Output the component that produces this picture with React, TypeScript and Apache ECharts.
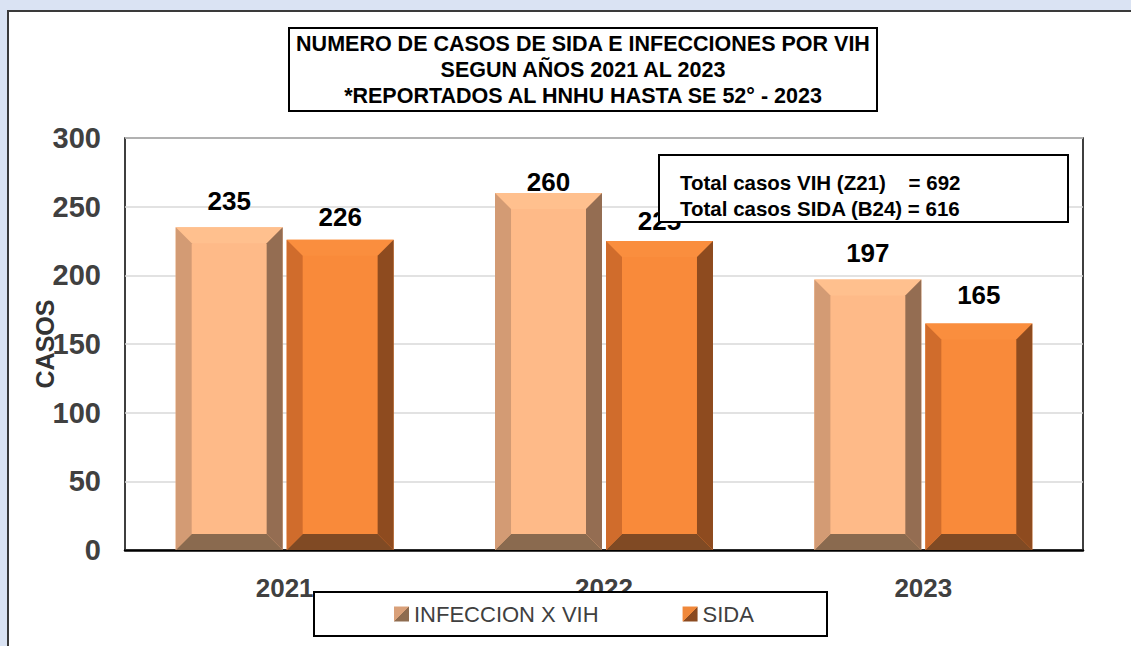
import React, { useEffect, useRef } from 'react';
import * as echarts from 'echarts';

const categories = ['2021', '2022', '2023'];
const vihValues = [235, 260, 197];
const sidaValues = [226, 225, 165];
const seriesNames = ['INFECCION X VIH', 'SIDA'];
const titleLines = [
  'NUMERO DE CASOS DE SIDA E INFECCIONES POR VIH',
  'SEGUN AÑOS 2021 AL 2023',
  '*REPORTADOS AL HNHU HASTA SE 52° - 2023',
];
const totalLines = ['Total casos VIH (Z21)\u00a0\u00a0\u00a0 = 692', 'Total casos SIDA (B24) = 616'];
const yAxisName = 'CASOS';

// label distance above each bar top (style, per series / category)
const LABEL_LIFT = [
  [26, 11, 26],
  [23, 20, 28],
];

const palettes = [
  { face: '#FEBA88', top: '#FFC08E', left: '#D39B74', right: '#946D52', bottom: '#8A6A4F', iconA: '#D9A079', iconB: '#8E6C50' },
  { face: '#F98A3A', top: '#FA8E3E', left: '#D06C2C', right: '#8E4B1F', bottom: '#804A24', iconA: '#F0883A', iconB: '#8B4A20' },
];

const FONT = 'Arial, "Liberation Sans", sans-serif';

function makeRenderItem(idx: number) {
  const pal = palettes[idx];
  return (params: any, api: any) => {
    const ci = api.value(0);
    const v = api.value(1);
    const topPt = api.coord([ci, v]);
    const basePt = api.coord([ci, 0]);
    const band = api.size([1, 0])[0];
    const w = band * 0.335;
    const gap = 4;
    const cx = topPt[0] + (idx === 0 ? -(w / 2 + gap / 2) : w / 2 + gap / 2);
    const x0 = cx - w / 2;
    const x1 = cx + w / 2;
    const y0 = topPt[1];
    const yb = basePt[1];
    const b = 16;
    const poly = (points: number[][], fill: string) => ({
      type: 'polygon',
      shape: { points },
      style: { fill },
    });
    return {
      type: 'group',
      children: [
        { type: 'rect', shape: { x: x0, y: y0, width: w, height: yb - y0 }, style: { fill: pal.face } },
        poly([[x0, y0], [x1, y0], [x1 - b, y0 + b], [x0 + b, y0 + b]], pal.top),
        poly([[x0, yb], [x1, yb], [x1 - b, yb - b], [x0 + b, yb - b]], pal.bottom),
        poly([[x0, y0], [x0 + b, y0 + b], [x0 + b, yb - b], [x0, yb]], pal.left),
        poly([[x1, y0], [x1 - b, y0 + b], [x1 - b, yb - b], [x1, yb]], pal.right),
        {
          type: 'text',
          x: cx,
          y: y0 - LABEL_LIFT[idx][ci],
          style: {
            text: String(v),
            fill: '#000',
            fontSize: 26,
            fontWeight: 'bold',
            fontFamily: FONT,
            align: 'center',
            verticalAlign: 'middle',
          },
        },
      ],
    };
  };
}

function splitGrad(a: string, b: string) {
  return {
    type: 'linear',
    x: 0,
    y: 0,
    x2: 1,
    y2: 1,
    colorStops: [
      { offset: 0, color: a },
      { offset: 0.5, color: a },
      { offset: 0.5, color: b },
      { offset: 1, color: b },
    ],
  };
}

export default function App() {
  const ref = useRef<HTMLDivElement>(null);
  useEffect(() => {
    if (!ref.current) return;
    const chart = echarts.init(ref.current, undefined, { renderer: 'svg' });
    const seriesData = [vihValues, sidaValues];
    const option: any = {
      animation: false,
      backgroundColor: '#DAE3F3',
      title: {
        text: titleLines.join('\n'),
        left: 583,
        top: 31,
        padding: 0,
        textAlign: 'center',
        textStyle: {
          fontSize: 21.5,
          fontWeight: 'bold',
          fontFamily: FONT,
          color: '#000',
          lineHeight: 26,
          align: 'center',
        },
      },
      grid: {
        left: 125,
        top: 138,
        right: 48,
        bottom: 96,
        show: true,
        borderColor: '#000',
        borderWidth: 1.5,
        backgroundColor: 'transparent',
      },
      legend: {
        left: 394,
        top: 603,
        padding: 0,
        itemWidth: 15,
        itemHeight: 15,
        itemGap: 84,
        z: 20,
        textStyle: { fontSize: 22, color: '#404040', fontFamily: FONT },
        data: seriesNames.map((n, i) => ({
          name: n,
          icon: 'rect',
          itemStyle: { color: splitGrad(palettes[i].iconA, palettes[i].iconB) },
        })),
      },
      xAxis: {
        type: 'category',
        data: categories,
        z: 0,
        axisLine: { lineStyle: { color: '#000', width: 2.5 } },
        axisTick: { show: false },
        axisLabel: {
          fontSize: 26,
          fontWeight: 'bold',
          fontFamily: FONT,
          color: '#404040',
          margin: 25,
        },
        splitLine: { show: false },
      },
      yAxis: {
        type: 'value',
        min: 0,
        max: 300,
        interval: 50,
        name: yAxisName,
        nameLocation: 'middle',
        nameRotate: 90,
        nameGap: 68,
        nameMoveOverlap: false,
        nameTextStyle: { fontSize: 25, fontWeight: 'bold', fontFamily: FONT, color: '#333' },
        axisLine: { show: false },
        axisTick: { show: false },
        axisLabel: {
          fontSize: 29,
          fontWeight: 'bold',
          fontFamily: FONT,
          color: '#404040',
          margin: 24,
        },
        splitLine: { lineStyle: { color: '#D9D9D9', width: 1.5 } },
      },
      series: seriesNames.map((n, i) => ({
        type: 'custom',
        name: n,
        z: 2,
        itemStyle: { color: splitGrad(palettes[i].iconA, palettes[i].iconB) },
        encode: { x: 0, y: 1 },
        data: seriesData[i].map((v, ci) => [ci, v]),
        renderItem: makeRenderItem(i),
      })),
      graphic: [
        {
          type: 'rect',
          z: -100,
          silent: true,
          shape: { x: 8, y: 11, width: 1200, height: 700 },
          style: { fill: '#fff', stroke: '#3A3A3A', lineWidth: 2 },
        },
        {
          type: 'rect',
          z: 1,
          silent: true,
          shape: { x: 289, y: 28, width: 588, height: 83 },
          style: { fill: '#fff', stroke: '#000', lineWidth: 2 },
        },
        {
          type: 'rect',
          z: 10,
          silent: true,
          shape: { x: 659, y: 155, width: 409, height: 67 },
          style: { fill: '#fff', stroke: '#000', lineWidth: 2 },
        },
        ...totalLines.map((t, i) => ({
          type: 'text',
          z: 11,
          silent: true,
          x: 680,
          y: 182 + i * 26,
          style: {
            text: t,
            fill: '#000',
            fontSize: 20.5,
            fontWeight: 'bold',
            fontFamily: FONT,
            align: 'left',
            verticalAlign: 'middle',
          },
        })),
        {
          type: 'rect',
          z: 3,
          silent: true,
          shape: { x: 314, y: 592, width: 513, height: 44 },
          style: { fill: '#fff', stroke: '#000', lineWidth: 2 },
        },
      ],
    };
    chart.setOption(option);
    return () => chart.dispose();
  }, []);
  return (
    <div
      ref={ref}
      style={{ position: 'fixed', left: 0, top: 0, width: 1131, height: 646 }}
    />
  );
}
